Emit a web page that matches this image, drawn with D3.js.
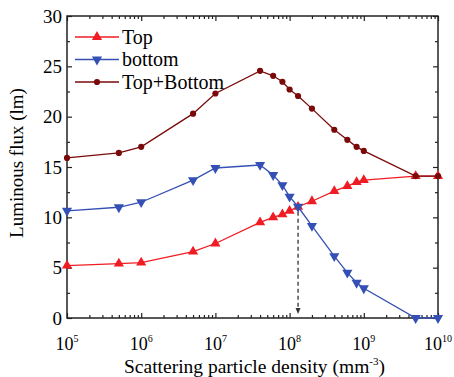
<!DOCTYPE html>
<html>
<head>
<meta charset="utf-8">
<script src="https://cdn.jsdelivr.net/npm/d3@7"></script>
<style>
  body { margin: 0; background: #fff; }
  svg { font-family: "Liberation Serif", "Times New Roman", serif; }
</style>
</head>
<body>
<svg class="chart" width="454" height="377"></svg>
<script>
// particle density (mm^-3), shared by all three series
const density = [1e5, 5e5, 1e6, 5e6, 1e7, 4e7, 6e7, 8e7, 1e8, 1.3e8, 2e8, 4e8, 6e8, 8e8, 1e9, 5e9, 1e10]
const topFlux = [5.2, 5.4, 5.5, 6.6, 7.4, 9.5, 10.0, 10.3, 10.65, 11.05, 11.6, 12.6, 13.1, 13.5, 13.7, 14.1, 14.1]
const bottomFlux = [10.65, 11.0, 11.5, 13.7, 14.9, 15.2, 14.2, 13.2, 12.05, 11.05, 9.15, 6.15, 4.5, 3.5, 2.95, 0, 0]
const sumFlux = [15.9, 16.4, 17.0, 20.3, 22.3, 24.55, 24.06, 23.47, 22.7, 22.05, 20.8, 18.7, 17.7, 17.0, 16.6, 14.1, 14.1]
const seriesNames = ["Top", "bottom", "Top+Bottom"]
const yTicks = [0, 5, 10, 15, 20, 25, 30]
const xDecades = [5, 6, 7, 8, 9, 10]
const crossDensity = 1.3e8, crossFlux = 11.05

const colors = ["#f01c24", "#3550b5", "#7a0a0a"]

const margin = { top: 16, right: 16, bottom: 59, left: 67 },
      width = 454 - margin.left - margin.right,
      height = 377 - margin.top - margin.bottom

const chart = d3.select(".chart")

const x = d3.scaleLog().domain([1e5, 1e10]).range([0, width])
const y = d3.scaleLinear().domain([0, 30]).range([height, 0])

const g = chart.append("g")
  .attr("transform", "translate(" + margin.left + "," + margin.top + ")")

// minor ticks
const minorX = []
for (let e = 5; e < 10; e++) for (let m = 2; m <= 9; m++) minorX.push(m * Math.pow(10, e))
const minorY = d3.range(2.5, 30, 5)

function axisStyle(sel) {
  sel.select(".domain").remove()
  sel.selectAll("line").attr("stroke", "#222").attr("stroke-width", 1.2)
}

// bottom
g.append("g").attr("transform", "translate(0," + height + ")")
  .call(d3.axisBottom(x).tickValues(xDecades.map(e => Math.pow(10, e))).tickSize(-5).tickFormat(""))
  .call(axisStyle)
g.append("g").attr("transform", "translate(0," + height + ")")
  .call(d3.axisBottom(x).tickValues(minorX).tickSize(-3).tickFormat(""))
  .call(axisStyle)
// top
g.append("g")
  .call(d3.axisTop(x).tickValues(xDecades.map(e => Math.pow(10, e))).tickSize(-5).tickFormat(""))
  .call(axisStyle)
g.append("g")
  .call(d3.axisTop(x).tickValues(minorX).tickSize(-3).tickFormat(""))
  .call(axisStyle)
// left
g.append("g")
  .call(d3.axisLeft(y).tickValues(yTicks).tickSize(-5).tickFormat(""))
  .call(axisStyle)
g.append("g")
  .call(d3.axisLeft(y).tickValues(minorY).tickSize(-3).tickFormat(""))
  .call(axisStyle)
// right
g.append("g").attr("transform", "translate(" + width + ",0)")
  .call(d3.axisRight(y).tickValues(yTicks).tickSize(-5).tickFormat(""))
  .call(axisStyle)
g.append("g").attr("transform", "translate(" + width + ",0)")
  .call(d3.axisRight(y).tickValues(minorY).tickSize(-3).tickFormat(""))
  .call(axisStyle)

g.append("rect")
  .attr("width", width).attr("height", height)
  .attr("fill", "none").attr("stroke", "#222").attr("stroke-width", 1.5)

// y tick labels
g.selectAll(".ylab").data(yTicks).enter().append("text")
  .attr("x", -5).attr("y", d => y(d) + 6.5)
  .attr("text-anchor", "end")
  .style("font-size", "19px")
  .text(d => d)

// x tick labels with superscripts
const xl = g.selectAll(".xlab").data(xDecades).enter().append("text")
  .attr("x", d => x(Math.pow(10, d)))
  .attr("y", height + 32)
  .attr("text-anchor", "middle")
  .style("font-size", "18px")
xl.append("tspan").text("10")
xl.append("tspan").attr("dy", -8).style("font-size", "10px").text(d => d)

// axis titles
const xt = g.append("text")
  .attr("x", width / 2 + 2).attr("y", height + 55)
  .attr("text-anchor", "middle")
  .style("font-size", "19.5px")
xt.append("tspan").text("Scattering particle density (mm")
xt.append("tspan").attr("dy", -8).style("font-size", "11px").text("-3")
xt.append("tspan").attr("dy", 8).text(")")

g.append("text")
  .attr("transform", "rotate(-90)")
  .attr("x", -height / 2 + 4).attr("y", -44)
  .attr("text-anchor", "middle")
  .style("font-size", "19px")
  .text("Luminous flux (lm)")

// dashed arrow at the crossing
g.append("line")
  .attr("x1", x(crossDensity)).attr("x2", x(crossDensity))
  .attr("y1", y(crossFlux) + 5).attr("y2", y(0) - 8)
  .attr("stroke", "#333").attr("stroke-width", 1.3)
  .attr("stroke-dasharray", "4,3")
g.append("path")
  .attr("d", "M" + (x(crossDensity) - 2.5) + "," + (y(0) - 10) + "L" + (x(crossDensity) + 2.5) + "," + (y(0) - 10) + "L" + x(crossDensity) + "," + (y(0) - 4) + "Z")
  .attr("fill", "#333")

const series = [topFlux, bottomFlux, sumFlux]
const shapes = [d3.symbolTriangle, d3.symbolTriangle, d3.symbolCircle]
const rotations = [0, 180, 0]
const sizes = [45, 45, 30]

const line = d3.line()
  .x((d, i) => x(density[i]))
  .y(d => y(d))

series.forEach(function (vals, s) {
  g.append("path")
    .datum(vals)
    .attr("d", line)
    .attr("fill", "none")
    .attr("stroke", colors[s])
    .attr("stroke-width", 1.3)

  g.selectAll(".m" + s).data(vals).enter().append("path")
    .attr("d", d3.symbol().type(shapes[s]).size(sizes[s]))
    .attr("transform", (d, i) => "translate(" + x(density[i]) + "," + y(d) + ") rotate(" + rotations[s] + ")")
    .attr("fill", colors[s])
})

// legend
const legend = g.append("g").attr("transform", "translate(8,21)")
seriesNames.forEach(function (name, s) {
  const row = legend.append("g").attr("transform", "translate(0," + (s * 22.5) + ")")
  row.append("line").attr("x1", 0).attr("x2", 44)
    .attr("stroke", colors[s]).attr("stroke-width", 1.3)
  row.append("path")
    .attr("d", d3.symbol().type(shapes[s]).size(sizes[s]))
    .attr("transform", "translate(22,0) rotate(" + rotations[s] + ")")
    .attr("fill", colors[s])
  row.append("text").attr("x", 47).attr("y", 6.5)
    .style("font-size", "20px")
    .text(name)
})
</script>
</body>
</html>
